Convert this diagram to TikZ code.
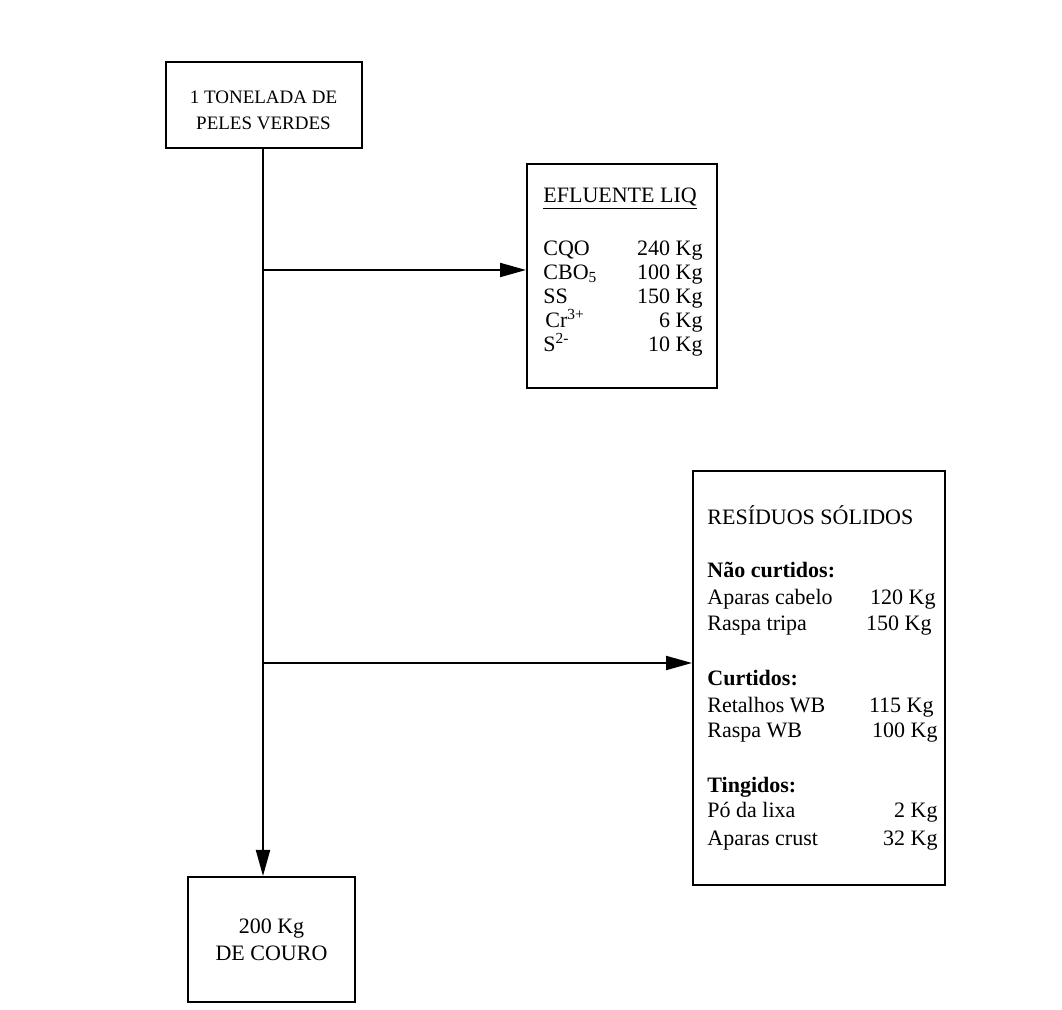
\documentclass[tikz,border=0pt]{standalone}
\usepackage{fontspec}
\setmainfont{Liberation Serif}
\usetikzlibrary{arrows.meta}
\begin{document}
\begin{tikzpicture}[x=0.5pt,y=-0.5pt,
  box/.style={draw,line width=1pt,rectangle,inner sep=0pt},
  txt/.style={inner sep=0pt,text height=8pt,text depth=2.5pt,font=\fontsize{11}{13}\selectfont},
  lbl/.style={txt,anchor=west},
  val/.style={txt,anchor=east},
  flow/.style={line width=1pt,-{Triangle[length=13pt,width=7pt]}}]
\useasboundingbox (0,0) rectangle (1062,1010);
% boxes
\node[box,minimum width=98pt,minimum height=43pt] (top) at (263.5,105) {};
\node[align=center,inner sep=0pt,font=\fontsize{9.5}{13}\selectfont] (toptxt) at (263.5,110) {1 TONELADA DE\\PELES VERDES};
\node[box,minimum width=83.5pt,minimum height=62.5pt,align=center,font=\fontsize{11}{13.5}\selectfont] (bot) at (271.5,939.5) {200 Kg\\DE COURO};
\node[box,minimum width=95pt,minimum height=112pt] (efl) at (622,276) {};
\node[box,minimum width=126pt,minimum height=207pt] (res) at (819,678) {};
% connectors
\coordinate (b1) at (263,270);
\coordinate (b2) at (263,663);
\draw[flow] (top.south -| b1) -- (bot.north -| b1);
\draw[flow] (b1) -- (b1 -| efl.west);
\draw[flow] (b2) -- (b2 -| res.west);
% efluente text
\node[lbl] (eflt) at (543,197) {\underline{EFLUENTE LIQ}};
\node[lbl] (e1) at (543,250) {CQO};
\node[val] (v1) at (703,250) {240 Kg};
\node[lbl] (e2) at (543,274) {CBO\textsubscript{5}};
\node[val] (v2) at (703,274) {100 Kg};
\node[lbl] (e3) at (543,298) {SS};
\node[val] (v3) at (703,298) {150 Kg};
\node[lbl] (e4) at (545,322) {Cr\textsuperscript{3+}};
\node[val] (v4) at (703,322) {6 Kg};
\node[lbl] (e5) at (543,346) {S\textsuperscript{2-}};
\node[val] (v5) at (703,346) {10 Kg};
% residuos text
\node[lbl] (rest) at (707,519) {RESÍDUOS SÓLIDOS};
\node[lbl,font=\fontsize{11}{13}\selectfont\bfseries] (h1) at (707,572) {Não curtidos:};
\node[lbl] (r1) at (707,599) {Aparas cabelo};
\node[val] (w1) at (936,599) {120 Kg};
\node[lbl] (r2) at (707,625) {Raspa tripa};
\node[val] (w2) at (932,625) {150 Kg};
\node[lbl,font=\fontsize{11}{13}\selectfont\bfseries] (h2) at (707,680) {Curtidos:};
\node[lbl] (r3) at (707,707) {Retalhos WB};
\node[val] (w3) at (934,707) {115 Kg};
\node[lbl] (r4) at (707,732) {Raspa WB};
\node[val] (w4) at (938,732) {100 Kg};
\node[lbl,font=\fontsize{11}{13}\selectfont\bfseries] (h3) at (707,787) {Tingidos:};
\node[lbl] (r5) at (707,812) {Pó da lixa};
\node[val] (w5) at (938,812) {2 Kg};
\node[lbl] (r6) at (707,840) {Aparas crust};
\node[val] (w6) at (938,840) {32 Kg};
\end{tikzpicture}
\end{document}
